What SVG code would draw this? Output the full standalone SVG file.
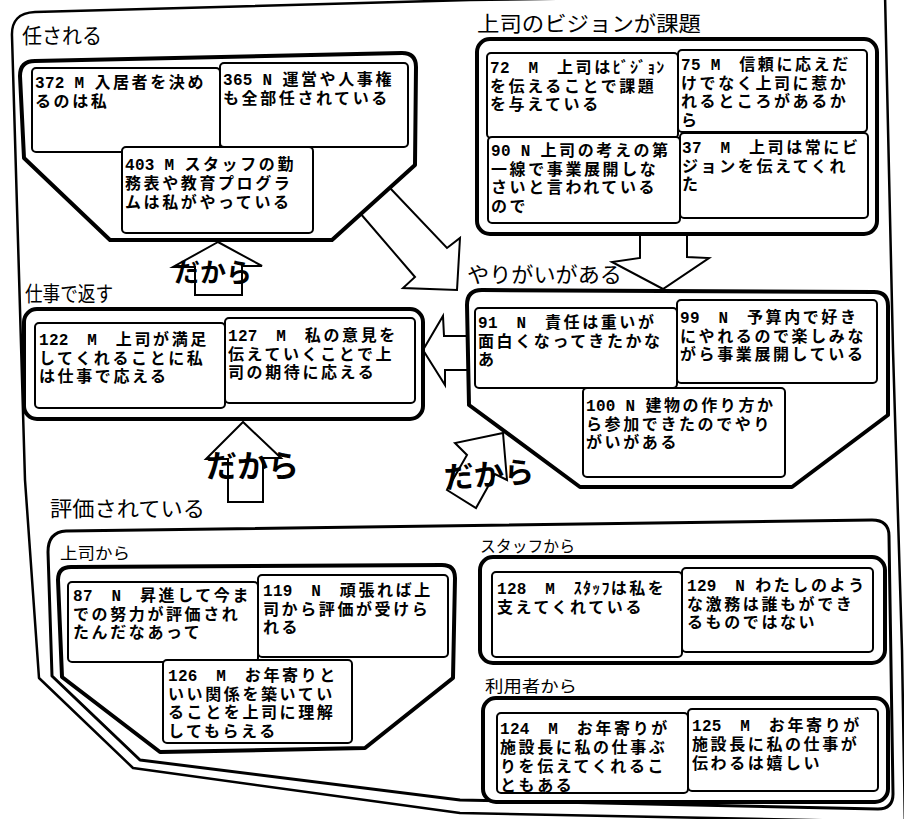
<svg xmlns="http://www.w3.org/2000/svg" width="904" height="819" viewBox="0 0 904 819">
<style>
.frame{fill:none;stroke:#000;stroke-width:2.5;stroke-linejoin:round}
.box{fill:#fff;stroke:#000;stroke-width:4;stroke-linejoin:round}
.ebox{fill:#fff;stroke:#000;stroke-width:3;stroke-linejoin:round}
.card{fill:#fff;stroke:#000;stroke-width:2}
.arrow{fill:#fff;stroke:#000;stroke-width:2;stroke-linejoin:miter}
.lbl{font-family:"Liberation Sans","Noto Sans CJK JP","Noto Sans CJK SC",sans-serif;font-size:21px;fill:#000}
.sub{font-family:"Liberation Sans","Noto Sans CJK JP","Noto Sans CJK SC",sans-serif;font-size:16px;fill:#000}
.t{font-family:"Liberation Sans","Noto Sans CJK JP","Noto Sans CJK SC",sans-serif;font-size:16px;letter-spacing:2.6px;font-weight:bold;fill:#000}
.h{font-family:"Liberation Mono","Noto Sans CJK JP",monospace;letter-spacing:0.3px;font-weight:bold}
.hk{letter-spacing:1.2px}
.dk{font-family:"Liberation Sans","Noto Sans CJK JP","Noto Sans CJK SC",sans-serif;font-weight:bold;fill:#000}
</style>
<rect width="904" height="819" fill="#fff"/>
<path class="frame" d="M 910,822 L 460,813 L 133,768 L 39,678 L 25,480 L 12,36 Q 11,13 35,12 L 470,0 L 885,-6 L 893,350 L 902,650 L 905,830"/>

<g id="connectors">
  <polygon class="arrow" points="390,188 447,248 460,238 457,290 403,288 415,277 360,213"/>
  <polygon class="arrow" points="640,230 640,258 612,262 663,289 709,258 687,257 687,230"/>
  <polygon class="arrow" points="468,336 444,336 443,316 423,350 445,385 445,370 468,370"/>
  <polygon class="arrow" points="218,242 173,267 195,267 195,295 242,295 242,266 262,266"/>
  <polygon class="arrow" points="243,422 206,459 228,459 228,502 263,502 263,458 281,458"/>
  <polygon class="arrow" points="503,433 507,480 495,474 476,508 447,490 467,455 455,443"/>
  <text class="dk" x="174" y="282" font-size="26">だから</text>
  <text class="dk" x="206" y="477" font-size="31">だから</text>
  <text class="dk" x="444" y="486" font-size="30" transform="rotate(-4 480 475)">だから</text>
</g>

<g id="makasareru">
  <text class="lbl" x="22" y="43" textLength="80" lengthAdjust="spacingAndGlyphs">任される</text>
  <path class="box" d="M 20,76 Q 20,61 35,61 L 402,53 Q 416,53 416,67 L 415,165 L 332,240 L 110,240 L 24,158 Z"/>
  <g id="n372"><rect class="card" x="32" y="68" width="188" height="84" rx="4"/>
    <text class="t" x="35" y="88"><tspan class="h">372 M </tspan>入居者を決め<tspan x="35" dy="19">るのは私</tspan></text></g>
  <g id="n365"><rect class="card" x="220" y="63" width="188" height="84" rx="4"/>
    <text class="t" x="223" y="85"><tspan class="h">365 N </tspan>運営や人事権<tspan x="223" dy="19">も全部任されている</tspan></text></g>
  <g id="n403"><rect class="card" x="122" y="147" width="191" height="86" rx="4"/>
    <text class="t" x="125" y="170"><tspan class="h">403 M </tspan>スタッフの勤<tspan x="125" dy="19">務表や教育プログラ</tspan><tspan x="125" dy="19">ムは私がやっている</tspan></text></g>
</g>

<g id="vision">
  <text class="lbl" x="477" y="31" textLength="224" lengthAdjust="spacingAndGlyphs">上司のビジョンが課題</text>
  <rect class="box" x="477" y="39" width="400" height="195" rx="13"/>
  <g id="n72"><rect class="card" x="487" y="53" width="191" height="85" rx="4"/>
    <text class="t" x="490" y="73"><tspan class="h">72</tspan>　<tspan class="h">M</tspan>　上司は<tspan class="hk">ﾋﾞｼﾞｮﾝ</tspan><tspan x="490" dy="18.7">を伝えることで課題</tspan><tspan x="490" dy="18.7">を与えている</tspan></text></g>
  <g id="n75"><rect class="card" x="678" y="50" width="189" height="82" rx="4"/>
    <text class="t" x="681" y="70"><tspan class="h">75 M</tspan>　信頼に応えだ<tspan x="681" dy="18.7">けでなく上司に惹か</tspan><tspan x="681" dy="18.7">れるところがあるか</tspan><tspan x="681" dy="18.7">ら</tspan></text></g>
  <g id="n90"><rect class="card" x="488" y="137" width="192" height="86" rx="4"/>
    <text class="t" x="491" y="156"><tspan class="h">90 N </tspan>上司の考えの第<tspan x="491" dy="18.7">一線で事業展開しな</tspan><tspan x="491" dy="18.7">さいと言われている</tspan><tspan x="491" dy="18.7">ので</tspan></text></g>
  <g id="n37"><rect class="card" x="680" y="133" width="188" height="85" rx="4"/>
    <text class="t" x="682" y="153"><tspan class="h">37</tspan>　<tspan class="h">M</tspan>　上司は常にビ<tspan x="682" dy="18.7">ジョンを伝えてくれ</tspan><tspan x="682" dy="18.7">た</tspan></text></g>
</g>

<g id="yarigai">
  <text class="lbl" x="467" y="282" textLength="155" lengthAdjust="spacingAndGlyphs">やりがいがある</text>
  <path class="box" d="M 467,305 Q 467,290 482,290 L 874,292 Q 888,292 888,306 L 888,415 L 792,487 L 580,487 L 469,405 Z"/>
  <g id="n91"><rect class="card" x="475" y="308" width="202" height="80" rx="4"/>
    <text class="t" x="478" y="328"><tspan class="h">91</tspan>　<tspan class="h">N</tspan>　責任は重いが<tspan x="478" dy="18.7">面白くなってきたかな</tspan><tspan x="478" dy="18.7">あ</tspan></text></g>
  <g id="n99"><rect class="card" x="677" y="300" width="200" height="83" rx="4"/>
    <text class="t" x="680" y="323"><tspan class="h">99</tspan>　<tspan class="h">N</tspan>　予算内で好き<tspan x="680" dy="18.7">にやれるので楽しみな</tspan><tspan x="680" dy="18.7">がら事業展開している</tspan></text></g>
  <g id="n100"><rect class="card" x="583" y="388" width="202" height="89" rx="4"/>
    <text class="t" x="586" y="411"><tspan class="h">100 N </tspan>建物の作り方か<tspan x="586" dy="18.7">ら参加できたのでやり</tspan><tspan x="586" dy="18.7">がいがある</tspan></text></g>
</g>

<g id="shigoto">
  <text class="lbl" x="25" y="301" textLength="88" lengthAdjust="spacingAndGlyphs">仕事で返す</text>
  <rect class="box" x="24" y="309" width="399" height="110" rx="13"/>
  <g id="n122"><rect class="card" x="35" y="323" width="190" height="85" rx="4"/>
    <text class="t" x="39" y="345"><tspan class="h">122</tspan>　<tspan class="h">M</tspan>　上司が満足<tspan x="39" dy="18.7">してくれることに私</tspan><tspan x="39" dy="18.7">は仕事で応える</tspan></text></g>
  <g id="n127"><rect class="card" x="225" y="318" width="190" height="85" rx="4"/>
    <text class="t" x="228" y="341"><tspan class="h">127</tspan>　<tspan class="h">M</tspan>　私の意見を<tspan x="228" dy="18.7">伝えていくことで上</tspan><tspan x="228" dy="18.7">司の期待に応える</tspan></text></g>
</g>

<g id="hyouka">
  <text class="lbl" x="50" y="516" textLength="155" lengthAdjust="spacingAndGlyphs">評価されている</text>
  <path class="ebox" d="M 48,552 Q 48,532 66,531 L 872,520 Q 889,520 889,536 L 893,794 Q 893,809 878,809 L 460,800 L 140,760 L 52,676 Z"/>
  <g id="joushi">
    <text class="sub" x="60" y="559" textLength="70" lengthAdjust="spacingAndGlyphs">上司から</text>
    <path class="box" d="M 58,580 Q 58,567 71,567 L 442,565 Q 455,565 455,578 L 453,678 L 365,748 L 160,752 L 62,677 Z"/>
    <g id="n87"><rect class="card" x="68" y="582" width="190" height="80" rx="4"/>
      <text class="t" x="73" y="601"><tspan class="h">87</tspan>　<tspan class="h">N</tspan>　昇進して今ま<tspan x="73" dy="18.7">での努力が評価され</tspan><tspan x="73" dy="18.7">たんだなあって</tspan></text></g>
    <g id="n119"><rect class="card" x="258" y="575" width="190" height="82" rx="4"/>
      <text class="t" x="263" y="596"><tspan class="h">119</tspan>　<tspan class="h">N</tspan>　頑張れば上<tspan x="263" dy="18.7">司から評価が受けら</tspan><tspan x="263" dy="18.7">れる</tspan></text></g>
    <g id="n126"><rect class="card" x="163" y="660" width="189" height="83" rx="4"/>
      <text class="t" x="168" y="681"><tspan class="h">126</tspan>　<tspan class="h">M</tspan>　お年寄りと<tspan x="168" dy="18.7">いい関係を築いてい</tspan><tspan x="168" dy="18.7">ることを上司に理解</tspan><tspan x="168" dy="18.7">してもらえる</tspan></text></g>
  </g>
  <g id="staff">
    <text class="sub" x="480" y="552" textLength="95" lengthAdjust="spacingAndGlyphs">スタッフから</text>
    <rect class="box" x="480" y="557" width="405" height="106" rx="13"/>
    <g id="n128"><rect class="card" x="492" y="572" width="190" height="85" rx="4"/>
      <text class="t" x="497" y="594"><tspan class="h">128</tspan>　<tspan class="h">M</tspan>　<tspan class="hk">ｽﾀｯﾌ</tspan>は私を<tspan x="497" dy="18.7">支えてくれている</tspan></text></g>
    <g id="n129"><rect class="card" x="682" y="568" width="191" height="84" rx="4"/>
      <text class="t" x="687" y="591"><tspan class="h">129</tspan>　<tspan class="h">N </tspan>わたしのよう<tspan x="687" dy="18.7">な激務は誰もができ</tspan><tspan x="687" dy="18.7">るものではない</tspan></text></g>
  </g>
  <g id="riyousha">
    <text class="sub" x="485" y="692" textLength="92" lengthAdjust="spacingAndGlyphs">利用者から</text>
    <rect class="box" x="483" y="698" width="405" height="104" rx="13"/>
    <g id="n124"><rect class="card" x="497" y="713" width="191" height="80" rx="4"/>
      <text class="t" x="500" y="734"><tspan class="h">124</tspan>　<tspan class="h">M</tspan>　お年寄りが<tspan x="500" dy="19">施設長に私の仕事ぶ</tspan><tspan x="500" dy="19">りを伝えてくれるこ</tspan><tspan x="500" dy="19">ともある</tspan></text></g>
    <g id="n125"><rect class="card" x="688" y="709" width="190" height="82" rx="4"/>
      <text class="t" x="692" y="731"><tspan class="h">125</tspan>　<tspan class="h">M</tspan>　お年寄りが<tspan x="692" dy="19">施設長に私の仕事が</tspan><tspan x="692" dy="19">伝わるは嬉しい</tspan></text></g>
  </g>
</g>
</svg>
